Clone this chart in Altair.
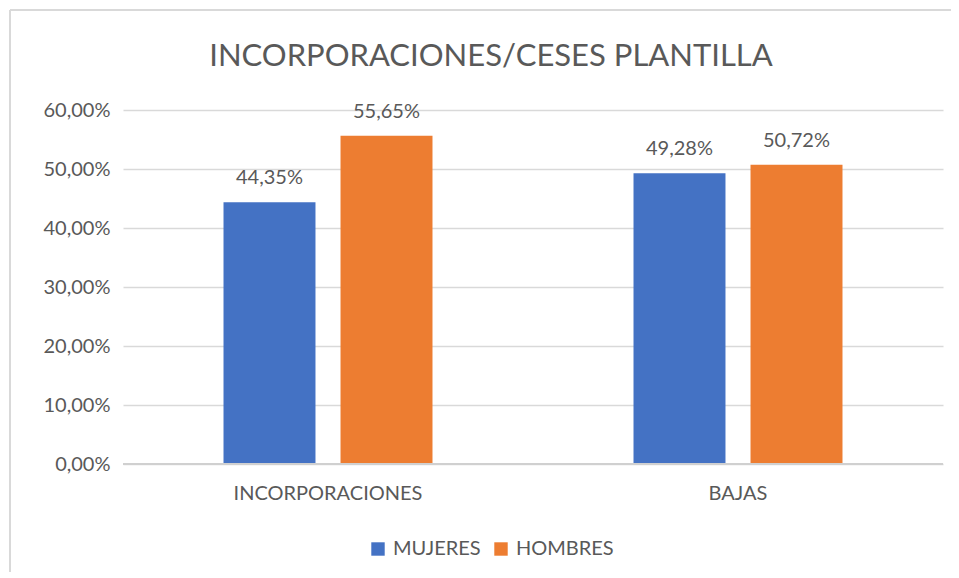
import altair as alt
import pandas as pd

categories = ["INCORPORACIONES", "BAJAS"]
series = ["MUJERES", "HOMBRES"]
mujeres = [0.4435, 0.4928]
hombres = [0.5565, 0.5072]
colors = ["#4472C4", "#ED7D31"]
title_text = "INCORPORACIONES/CESES PLANTILLA"

rows = []
for i, c in enumerate(categories):
    for s, vals in zip(series, [mujeres, hombres]):
        v = vals[i]
        rows.append({"cat": c, "serie": s, "val": v,
                     "lab": f"{v*100:.2f}%".replace(".", ",")})
df = pd.DataFrame(rows)

FONT = "Lato"
GREY = "#595959"
W, H = 820, 354
FS = 20

base = alt.Chart(df)

x = alt.X("cat:N", sort=categories, title=None,
          scale=alt.Scale(paddingInner=0, paddingOuter=0),
          axis=alt.Axis(labelAngle=0, labelFontSize=FS, labelColor=GREY, labelFont=FONT,
                        ticks=False, domain=False, labelPadding=19, labelLimit=0))
xo = alt.XOffset("serie:N", sort=series,
                 scale=alt.Scale(paddingInner=0.214, paddingOuter=0.859))

bars = base.mark_bar().encode(
    x=x, xOffset=xo,
    y=alt.Y("val:Q", title=None,
            scale=alt.Scale(domain=[0, 0.6]),
            axis=alt.Axis(values=[0, 0.1, 0.2, 0.3, 0.4, 0.5, 0.6],
                          labelExpr="replace(format(datum.value, '.2%'), '.', ',')",
                          labelFontSize=FS, labelColor=GREY, labelFont=FONT,
                          ticks=False, domain=False, gridColor="#D9D9D9",
                          gridWidth=1.5, labelPadding=13)),
    color=alt.Color("serie:N", sort=series,
                    scale=alt.Scale(domain=series, range=colors),
                    legend=alt.Legend(title=None, orient="none", direction="horizontal",
                                      legendX=245, legendY=429,
                                      symbolType="square", symbolSize=180,
                                      symbolStrokeWidth=0, labelLimit=0,
                                      labelFontSize=FS, labelColor=GREY, labelFont=FONT,
                                      columnPadding=10, labelOffset=5)),
)

texts = base.mark_text(dy=-24, fontSize=FS, color=GREY, font=FONT).encode(
    x=alt.X("cat:N", sort=categories), xOffset=xo,
    y="val:Q", text="lab:N")

zero = base.mark_rule(color="#D0D0D0", strokeWidth=2).encode(
    x=alt.value(0), x2=alt.value(W), y=alt.value(H))

border_top = base.mark_rule(color="#D9D9D9", strokeWidth=2).encode(
    x=alt.value(-113), x2=alt.value(840), y=alt.value(-100))
border_left = base.mark_rule(color="#D9D9D9", strokeWidth=2).encode(
    x=alt.value(-113), y=alt.value(-100), y2=alt.value(462))

title = alt.Chart(pd.DataFrame({"t": [title_text]})).mark_text(
    fontSize=31, color=GREY, font=FONT, baseline="middle", align="center"
).encode(x=alt.value(368), y=alt.value(-53), text="t:N")

chart = alt.layer(border_top, border_left, bars, zero, texts, title).properties(
    width=W, height=H,
    autosize=alt.AutoSizeParams(type="none"),
    padding={"left": 115, "top": 102, "right": 8, "bottom": 108},
).configure_view(stroke=None)

chart.save("out.html", embed_options={"renderer": "svg", "actions": False})
